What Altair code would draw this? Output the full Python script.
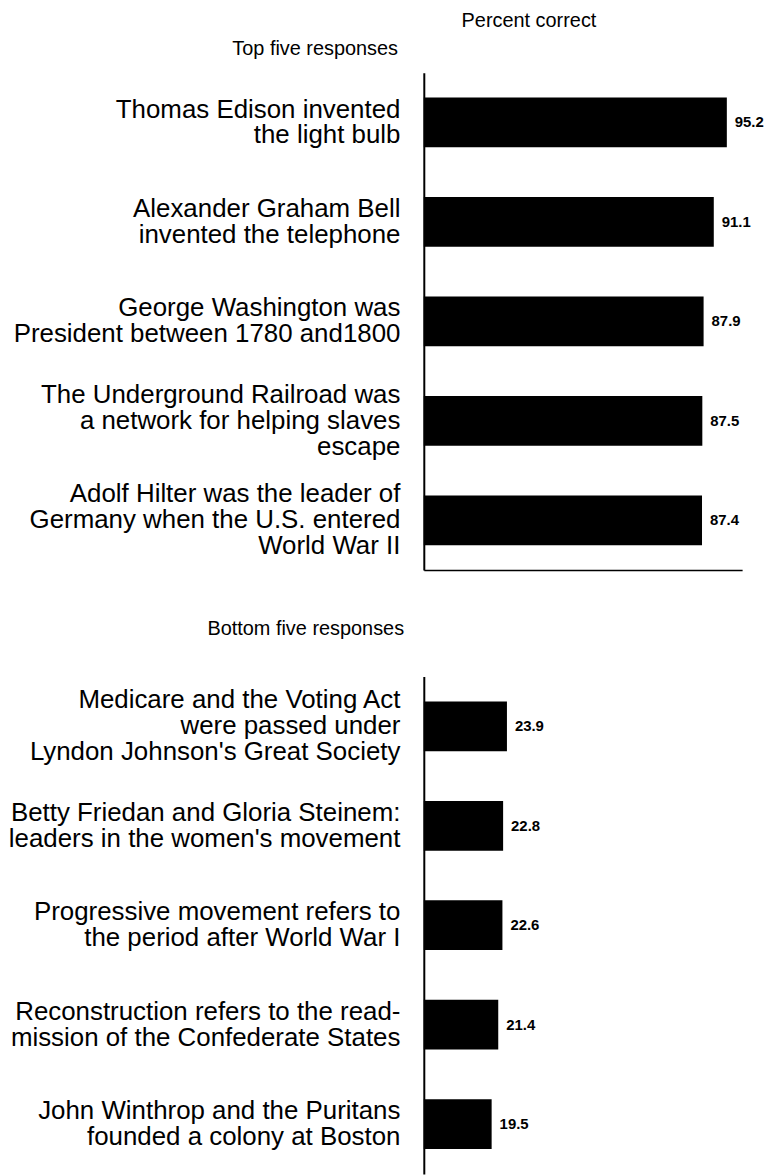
import altair as alt
import pandas as pd

FONT = "Liberation Sans"

top_labels = [
    "Thomas Edison invented|the light bulb",
    "Alexander Graham Bell|invented the telephone",
    "George Washington was|President between 1780 and1800",
    "The Underground Railroad was|a network for helping slaves|escape",
    "Adolf Hilter was the leader of|Germany when the U.S. entered|World War II",
]
top_values = [95.2, 91.1, 87.9, 87.5, 87.4]

bottom_labels = [
    "Medicare and the Voting Act|were passed under|Lyndon Johnson's Great Society",
    "Betty Friedan and Gloria Steinem:|leaders in the women's movement",
    "Progressive movement refers to|the period after World War I",
    "Reconstruction refers to the read-|mission of the Confederate States",
    "John Winthrop and the Puritans|founded a colony at Boston",
]
bottom_values = [23.9, 22.8, 22.6, 21.4, 19.5]

LINE_H = 26


def panel(labels, values, xmax, group_title, title_x, title_y, bottom_domain):
    df = pd.DataFrame({"item": labels, "pct": values})
    yscale = alt.Scale(paddingInner=0.5, paddingOuter=0.25)
    xscale = alt.Scale(domain=[0, xmax], nice=False, zero=True)
    yaxis = alt.Axis(
        title=group_title, titleAngle=0, titleX=title_x, titleY=title_y,
        titleAlign="left", titleBaseline="alphabetic", titleFontSize=20,
        titleFontWeight="normal", titleFont=FONT, titleColor="black",
        labelExpr="split(datum.label, '|')", labelFontSize=26, labelFont=FONT,
        labelColor="black", labelLineHeight=LINE_H, labelPadding=24, labelLimit=600,
        labelOffset={
            "condition": {"test": "length(split(datum.label, '|')) >= 3", "value": -LINE_H},
            "value": -LINE_H / 2,
        },
        ticks=False, domainColor="black", domainWidth=2, grid=False,
    )
    xaxis = alt.Axis(title=None, labels=False, ticks=False, grid=False,
                     domain=bottom_domain, domainColor="black", domainWidth=1.5)
    base = alt.Chart(df)
    bars = base.mark_bar(color="black").encode(
        x=alt.X("pct:Q", scale=xscale, axis=xaxis),
        y=alt.Y("item:N", sort=labels, scale=yscale, axis=yaxis),
    )
    text = base.mark_text(
        align="left", baseline="middle", dx=8, fontSize=15, fontWeight="bold",
        font=FONT, color="black",
    ).encode(
        x=alt.X("pct:Q", scale=xscale, axis=xaxis),
        y=alt.Y("item:N", sort=labels, scale=yscale, axis=yaxis),
        text=alt.Text("pct:Q", format=".1f"),
    )
    return alt.layer(bars, text).properties(width=320, height=500)


top = panel(top_labels, top_values, 100, "Top five responses", -193, -18, True).properties(
    title=alt.Title("Percent correct", anchor="start", frame="group", dx=38,
                    fontSize=20, fontWeight="normal", font=FONT, color="black",
                    offset=8)
)
bottom = panel(bottom_labels, bottom_values, 91.5, "Bottom five responses", -218, -42, False)

chart = alt.vconcat(top, bottom, spacing=49).properties(
    padding={"left": 0, "top": 0, "right": 0, "bottom": 0},
    background="white",
).configure_view(stroke=None)

chart.save("out.html", embed_options={"renderer": "svg", "actions": False})
